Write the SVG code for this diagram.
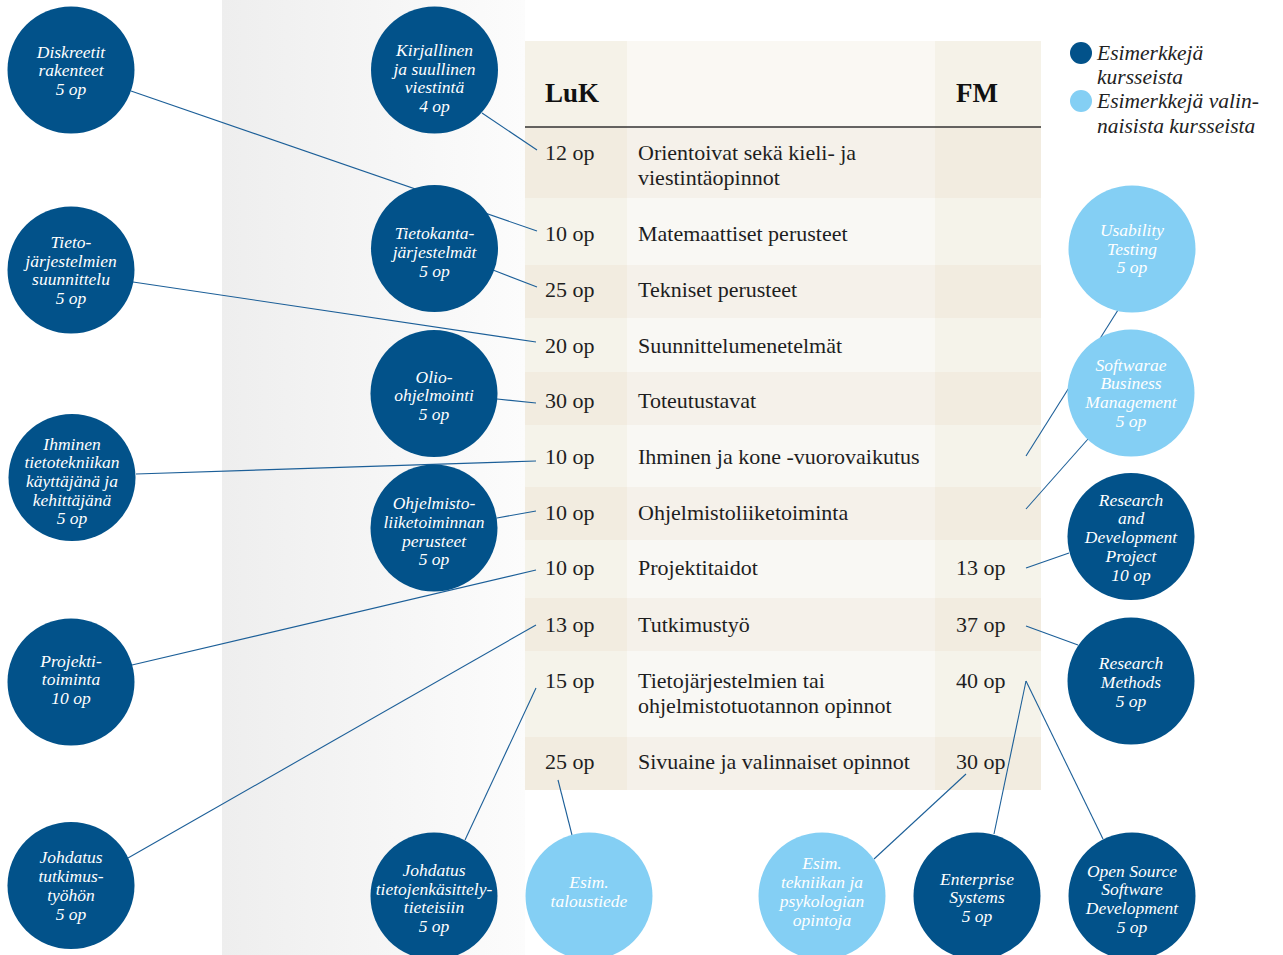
<svg xmlns="http://www.w3.org/2000/svg" width="1283" height="955" viewBox="0 0 1283 955">
<defs>
<linearGradient id="band" x1="0" y1="0" x2="1" y2="0">
<stop offset="0" stop-color="#eeeeee"/>
<stop offset="1" stop-color="#fcfcfc"/>
</linearGradient>
</defs>
<style>
.cell{font-family:"Liberation Serif","Times New Roman",serif;font-size:22px;fill:#1e1e1e}
.hdr{font-family:"Liberation Serif","Times New Roman",serif;font-size:27px;font-weight:bold;fill:#111}
.leg{font-family:"Liberation Serif","Times New Roman",serif;font-size:21.5px;font-style:italic;fill:#222}
.ct{font-family:"Liberation Serif","Times New Roman",serif;font-size:17.5px;font-style:italic;fill:#ffffff;text-anchor:middle}
.dark{fill:#02528a}
.light{fill:#84cff4}
.conn line{stroke:#1c5f98;stroke-width:1.1;fill:none}
.mL{fill:#f9f8f4}.sL{fill:#f5f3ea}
.mD{fill:#f5f1ea}.sD{fill:#f2ece0}
</style>
<rect x="0" y="0" width="1283" height="955" fill="#ffffff"/>
<rect x="222" y="0" width="303" height="955" fill="url(#band)"/>

<g id="table">
<rect x="525" y="41" width="516" height="86" fill="#faf8f3"/>
<rect x="525" y="41" width="102" height="86" fill="#f5f2e8"/>
<rect x="935" y="41" width="106" height="86" fill="#f5f2e8"/>
<rect x="525" y="127" width="516" height="71" class="mD"/>
<rect x="525" y="198" width="516" height="67" class="mL"/>
<rect x="525" y="265" width="516" height="53" class="mD"/>
<rect x="525" y="318" width="516" height="54" class="mL"/>
<rect x="525" y="372" width="516" height="53" class="mD"/>
<rect x="525" y="425" width="516" height="62" class="mL"/>
<rect x="525" y="487" width="516" height="53" class="mD"/>
<rect x="525" y="540" width="516" height="58" class="mL"/>
<rect x="525" y="598" width="516" height="53" class="mD"/>
<rect x="525" y="651" width="516" height="86" class="mL"/>
<rect x="525" y="737" width="516" height="53" class="mD"/>
<rect x="525" y="127" width="102" height="71" class="sD"/><rect x="935" y="127" width="106" height="71" class="sD"/>
<rect x="525" y="198" width="102" height="67" class="sL"/><rect x="935" y="198" width="106" height="67" class="sL"/>
<rect x="525" y="265" width="102" height="53" class="sD"/><rect x="935" y="265" width="106" height="53" class="sD"/>
<rect x="525" y="318" width="102" height="54" class="sL"/><rect x="935" y="318" width="106" height="54" class="sL"/>
<rect x="525" y="372" width="102" height="53" class="sD"/><rect x="935" y="372" width="106" height="53" class="sD"/>
<rect x="525" y="425" width="102" height="62" class="sL"/><rect x="935" y="425" width="106" height="62" class="sL"/>
<rect x="525" y="487" width="102" height="53" class="sD"/><rect x="935" y="487" width="106" height="53" class="sD"/>
<rect x="525" y="540" width="102" height="58" class="sL"/><rect x="935" y="540" width="106" height="58" class="sL"/>
<rect x="525" y="598" width="102" height="53" class="sD"/><rect x="935" y="598" width="106" height="53" class="sD"/>
<rect x="525" y="651" width="102" height="86" class="sL"/><rect x="935" y="651" width="106" height="86" class="sL"/>
<rect x="525" y="737" width="102" height="53" class="sD"/><rect x="935" y="737" width="106" height="53" class="sD"/>
<line x1="525" y1="127" x2="1041" y2="127" stroke="#333333" stroke-width="1.6"/>
<text class="hdr" x="545" y="102">LuK</text>
<text class="hdr" x="956" y="102">FM</text>
<text class="cell" x="545" y="160">12 op</text>
<text class="cell" x="638" y="160">Orientoivat sekä kieli- ja</text>
<text class="cell" x="638" y="185">viestintäopinnot</text>
<text class="cell" x="545" y="241">10 op</text>
<text class="cell" x="638" y="241">Matemaattiset perusteet</text>
<text class="cell" x="545" y="297">25 op</text>
<text class="cell" x="638" y="297">Tekniset perusteet</text>
<text class="cell" x="545" y="353">20 op</text>
<text class="cell" x="638" y="353">Suunnittelumenetelmät</text>
<text class="cell" x="545" y="408">30 op</text>
<text class="cell" x="638" y="408">Toteutustavat</text>
<text class="cell" x="545" y="464">10 op</text>
<text class="cell" x="638" y="464">Ihminen ja kone -vuorovaikutus</text>
<text class="cell" x="545" y="520">10 op</text>
<text class="cell" x="638" y="520">Ohjelmistoliiketoiminta</text>
<text class="cell" x="545" y="575">10 op</text>
<text class="cell" x="638" y="575">Projektitaidot</text>
<text class="cell" x="956" y="575">13 op</text>
<text class="cell" x="545" y="632">13 op</text>
<text class="cell" x="638" y="632">Tutkimustyö</text>
<text class="cell" x="956" y="632">37 op</text>
<text class="cell" x="545" y="688">15 op</text>
<text class="cell" x="638" y="688">Tietojärjestelmien tai</text>
<text class="cell" x="638" y="713">ohjelmistotuotannon opinnot</text>
<text class="cell" x="956" y="688">40 op</text>
<text class="cell" x="545" y="769">25 op</text>
<text class="cell" x="638" y="769">Sivuaine ja valinnaiset opinnot</text>
<text class="cell" x="956" y="769">30 op</text>
</g>

<g id="connectors" class="conn">
<line x1="131" y1="91" x2="537" y2="231"/>
<line x1="482" y1="113" x2="537" y2="150"/>
<line x1="493" y1="270" x2="537" y2="287"/>
<line x1="133" y1="282" x2="536" y2="342"/>
<line x1="497" y1="399" x2="536" y2="403"/>
<line x1="136" y1="474" x2="536" y2="461"/>
<line x1="497" y1="518" x2="536" y2="511"/>
<line x1="132" y1="665" x2="536" y2="570"/>
<line x1="128" y1="858" x2="536" y2="625"/>
<line x1="465" y1="840" x2="536" y2="688"/>
<line x1="572" y1="835" x2="558" y2="780"/>
<line x1="874" y1="859" x2="966" y2="774"/>
<line x1="994" y1="834" x2="1026" y2="681"/>
<line x1="1026" y1="681" x2="1103" y2="839"/>
<line x1="1026" y1="626" x2="1078" y2="645"/>
<line x1="1026" y1="568" x2="1069" y2="553"/>
<line x1="1026" y1="509" x2="1088" y2="439"/>
<line x1="1026" y1="456" x2="1118" y2="310"/>
</g>

<g id="n-diskreetit"><circle class="dark" cx="71" cy="70" r="63.5"/>
<text class="ct" x="71" y="58">Diskreetit</text><text class="ct" x="71" y="76">rakenteet</text><text class="ct" x="71" y="95">5 op</text></g>
<g id="n-kirjallinen"><circle class="dark" cx="434.5" cy="70" r="63.5"/>
<text class="ct" x="434.5" y="56">Kirjallinen</text><text class="ct" x="434.5" y="75">ja suullinen</text><text class="ct" x="434.5" y="93">viestintä</text><text class="ct" x="434.5" y="112">4 op</text></g>
<g id="n-tietokanta"><circle class="dark" cx="434.5" cy="248.5" r="63.5"/>
<text class="ct" x="434.5" y="239">Tietokanta-</text><text class="ct" x="434.5" y="258">järjestelmät</text><text class="ct" x="434.5" y="277">5 op</text></g>
<g id="n-tjsuunnittelu"><circle class="dark" cx="71" cy="270" r="63.5"/>
<text class="ct" x="71" y="248">Tieto-</text><text class="ct" x="71" y="267">järjestelmien</text><text class="ct" x="71" y="285">suunnittelu</text><text class="ct" x="71" y="304">5 op</text></g>
<g id="n-olio"><circle class="dark" cx="434" cy="393.5" r="63.5"/>
<text class="ct" x="434" y="383">Olio-</text><text class="ct" x="434" y="401">ohjelmointi</text><text class="ct" x="434" y="420">5 op</text></g>
<g id="n-ihminen"><circle class="dark" cx="72" cy="477.5" r="63.5"/>
<text class="ct" x="72" y="450">Ihminen</text><text class="ct" x="72" y="468">tietotekniikan</text><text class="ct" x="72" y="487">käyttäjänä ja</text><text class="ct" x="72" y="506">kehittäjänä</text><text class="ct" x="72" y="524">5 op</text></g>
<g id="n-ohjelmisto"><circle class="dark" cx="434" cy="528" r="63.5"/>
<text class="ct" x="434" y="509">Ohjelmisto-</text><text class="ct" x="434" y="528">liiketoiminnan</text><text class="ct" x="434" y="547">perusteet</text><text class="ct" x="434" y="565">5 op</text></g>
<g id="n-projekti"><circle class="dark" cx="71" cy="682" r="63.5"/>
<text class="ct" x="71" y="667">Projekti-</text><text class="ct" x="71" y="685">toiminta</text><text class="ct" x="71" y="704">10 op</text></g>
<g id="n-tutkimustyo"><circle class="dark" cx="71" cy="885.5" r="63.5"/>
<text class="ct" x="71" y="863">Johdatus</text><text class="ct" x="71" y="882">tutkimus-</text><text class="ct" x="71" y="901">työhön</text><text class="ct" x="71" y="920">5 op</text></g>
<g id="n-tkt"><circle class="dark" cx="434" cy="896" r="63.5"/>
<text class="ct" x="434" y="876">Johdatus</text><text class="ct" x="434" y="894.5">tietojenkäsittely-</text><text class="ct" x="434" y="913">tieteisiin</text><text class="ct" x="434" y="932">5 op</text></g>
<g id="n-taloustiede"><circle class="light" cx="589" cy="896" r="63.5"/>
<text class="ct" x="589" y="888">Esim.</text><text class="ct" x="589" y="907">taloustiede</text></g>
<g id="n-tekniikka"><circle class="light" cx="822" cy="896" r="63.5"/>
<text class="ct" x="822" y="869">Esim.</text><text class="ct" x="822" y="888">tekniikan ja</text><text class="ct" x="822" y="907">psykologian</text><text class="ct" x="822" y="926">opintoja</text></g>
<g id="n-enterprise"><circle class="dark" cx="977" cy="896" r="63.5"/>
<text class="ct" x="977" y="885">Enterprise</text><text class="ct" x="977" y="903">Systems</text><text class="ct" x="977" y="922">5 op</text></g>
<g id="n-opensource"><circle class="dark" cx="1132" cy="896" r="63.5"/>
<text class="ct" x="1132" y="877">Open Source</text><text class="ct" x="1132" y="895">Software</text><text class="ct" x="1132" y="914">Development</text><text class="ct" x="1132" y="933">5 op</text></g>
<g id="n-methods"><circle class="dark" cx="1131" cy="681" r="63.5"/>
<text class="ct" x="1131" y="669">Research</text><text class="ct" x="1131" y="688">Methods</text><text class="ct" x="1131" y="707">5 op</text></g>
<g id="n-rd"><circle class="dark" cx="1131" cy="536.5" r="63.5"/>
<text class="ct" x="1131" y="506">Research</text><text class="ct" x="1131" y="524">and</text><text class="ct" x="1131" y="543">Development</text><text class="ct" x="1131" y="562">Project</text><text class="ct" x="1131" y="581">10 op</text></g>
<g id="n-sbm"><circle class="light" cx="1131" cy="393" r="63.5"/>
<text class="ct" x="1131" y="371">Softwarae</text><text class="ct" x="1131" y="389">Business</text><text class="ct" x="1131" y="408">Management</text><text class="ct" x="1131" y="427">5 op</text></g>
<g id="n-usability"><circle class="light" cx="1132" cy="249" r="63.5"/>
<text class="ct" x="1132" y="236">Usability</text><text class="ct" x="1132" y="255">Testing</text><text class="ct" x="1132" y="273">5 op</text></g>

<g id="legend">
<circle class="dark" cx="1081" cy="53" r="11"/>
<circle class="light" cx="1081" cy="101" r="11"/>
<text class="leg" x="1097" y="60">Esimerkkejä</text>
<text class="leg" x="1097" y="84">kursseista</text>
<text class="leg" x="1097" y="108">Esimerkkejä valin-</text>
<text class="leg" x="1097" y="133">naisista kursseista</text>
</g>
</svg>
